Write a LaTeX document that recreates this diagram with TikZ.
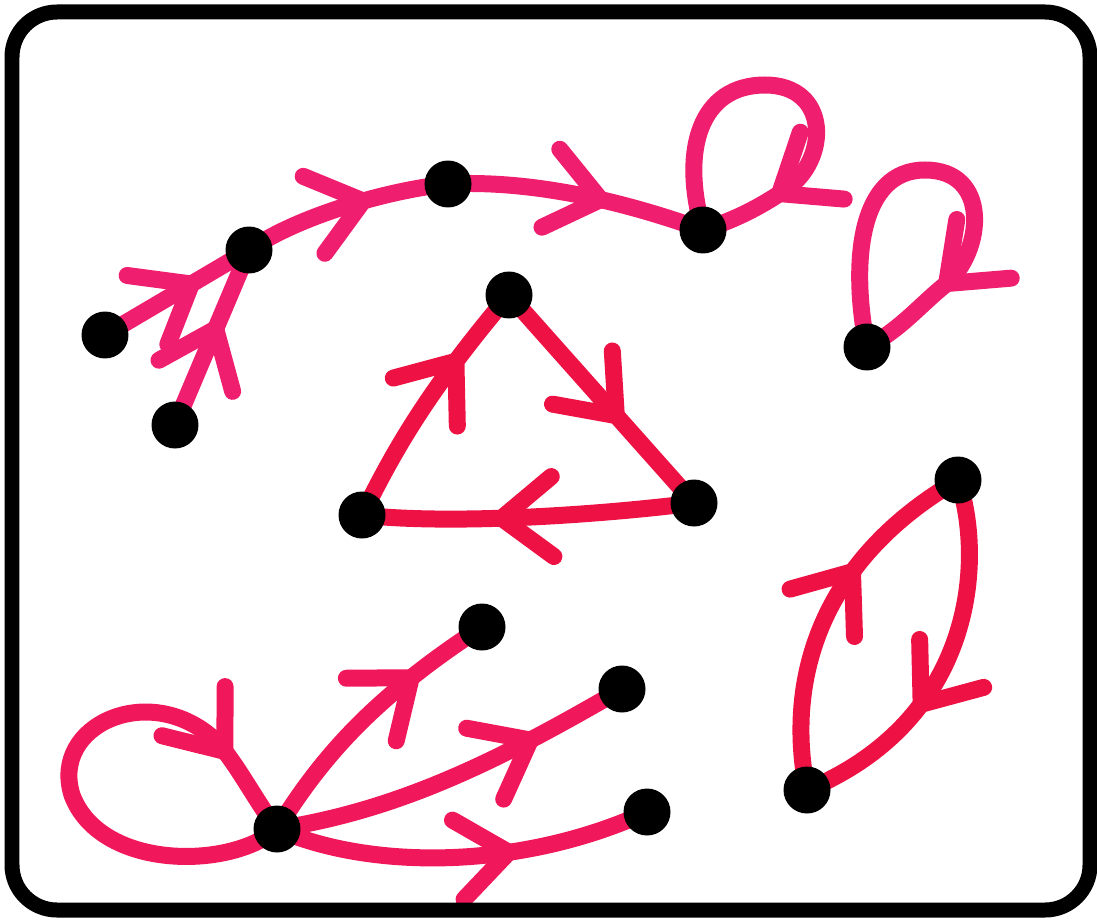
\documentclass[tikz,border=0pt]{standalone}
\usepackage{tikz}
\usetikzlibrary{decorations.markings, backgrounds}

\definecolor{inkpink}{RGB}{240,30,110}
\definecolor{inkred}{RGB}{238,18,68}
\definecolor{inkrose}{RGB}{240,24,90}

\begin{document}
\begin{tikzpicture}[
    x=0.02cm, y=-0.02cm,
    dot/.style={circle, fill=black, minimum size=0.94cm, inner sep=0pt},
    ink/.style={line width=0.34cm, draw=#1},
    headat/.style 2 args={postaction={decorate, decoration={markings, mark=at position #1 with {\draw[#2, line width=0.34cm, line cap=round, line join=round] (-1.02cm,0.8cm) -- (0,0) -- (-1.02cm,-0.8cm);}}}}
]
\useasboundingbox (0,0) rectangle (1097,922);

% frame
\draw[line width=0.3cm, rounded corners=0.9cm] (12,12) rectangle (1090,910);

% dots
\node[dot] (src1) at (105,335) {};
\node[dot] (src2) at (175,425) {};
\node[dot] (fork) at (249,250) {};
\node[dot] (relay) at (448,184) {};
\node[dot] (knot) at (703,230) {};
\node[dot] (lone) at (867,347) {};

\node[dot] (tritop) at (509,295) {};
\node[dot] (trileft) at (362,515) {};
\node[dot] (triright) at (694,503) {};

\node[dot] (pairtop) at (958,480) {};
\node[dot] (pairbot) at (807,790) {};

\node[dot] (star) at (277,829) {};
\node[dot] (leafa) at (482,627) {};
\node[dot] (leafb) at (622,689) {};
\node[dot] (leafc) at (647,812) {};

\begin{scope}[on background layer]
% upper chain
\draw[ink=inkpink, headat={0.6}{inkpink}] (src1.center) -- (fork.center);
\draw[ink=inkpink, headat={0.55}{inkpink}] (src2.center) -- (fork.center);
\draw[ink=inkpink, headat={0.59}{inkpink}] (fork.center) .. controls (300,215) and (390,190) .. (relay.center);
\draw[ink=inkpink, headat={0.59}{inkpink}] (relay.center) .. controls (530,180) and (620,200) .. (knot.center);

% loops
\draw[ink=inkpink, headat={0.8}{inkpink}] (knot.center) .. controls (680,150) and (700,85) .. (765,85)
    .. controls (830,85) and (830,160) .. (785,190) .. controls (760,207) and (735,220) .. (knot.center);
\draw[ink=inkpink, headat={0.78}{inkpink}] (lone.center) .. controls (850,260) and (860,170) .. (925,170)
    .. controls (990,170) and (985,250) .. (945,285) .. controls (920,305) and (900,330) .. (lone.center);

% triangle
\draw[ink=inkred, headat={0.68}{inkred}] (trileft.center) .. controls (390,460) and (420,400) .. (tritop.center);
\draw[ink=inkred, headat={0.58}{inkred}] (tritop.center) -- (triright.center);
\draw[ink=inkred, headat={0.58}{inkred}] (triright.center) .. controls (600,515) and (450,525) .. (trileft.center);

% pair
\draw[ink=inkred, headat={0.62}{inkred}] (pairbot.center) .. controls (785,680) and (820,560) .. (pairtop.center);
\draw[ink=inkred, headat={0.62}{inkred}] (pairtop.center) .. controls (985,560) and (975,720) .. (pairbot.center);

% lower star
\draw[ink=inkrose, headat={0.83}{inkrose}] (star.center) .. controls (230,870) and (100,870) .. (72,795)
    .. controls (50,725) and (150,680) .. (215,740) .. controls (235,760) and (255,800) .. (star.center);
\draw[ink=inkrose, headat={0.7}{inkrose}] (star.center) .. controls (320,760) and (370,700) .. (leafa.center);
\draw[ink=inkrose, headat={0.72}{inkrose}] (star.center) .. controls (400,810) and (500,760) .. (leafb.center);
\draw[ink=inkrose, headat={0.62}{inkrose}] (star.center) .. controls (370,870) and (520,870) .. (leafc.center);
\end{scope}

\end{tikzpicture}
\end{document}
